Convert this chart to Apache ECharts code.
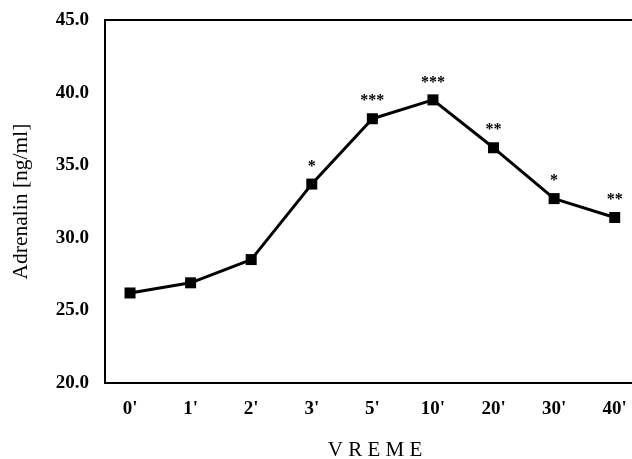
<!DOCTYPE html>
<html>
<head>
<meta charset="utf-8">
<script src="https://cdn.jsdelivr.net/npm/echarts@6/dist/echarts.min.js"></script>
<style>html,body{margin:0;padding:0;background:#fff;}#c{width:632px;height:459px;}</style>
</head>
<body>
<div id="c"></div>
<script>
const categories = ["0'", "1'", "2'", "3'", "5'", "10'", "20'", "30'", "40'"];
const values = [26.2, 26.9, 28.5, 33.7, 38.2, 39.5, 36.2, 32.7, 31.4];
const stars = ["", "", "", "*", "***", "***", "**", "*", "**"];
const yTicks = [20, 25, 30, 35, 40, 45];

const chart = echarts.init(document.getElementById('c'), null, {renderer: 'canvas'});
const font = '"Liberation Serif", "Times New Roman", serif';
const idx = categories.map((_, i) => i);

chart.setOption({
  animation: false,
  backgroundColor: '#fff',
  grid: {left: 105, top: 20, width: 540, height: 363, show: true, borderColor: '#000', borderWidth: 2,
         containLabel: false, outerBoundsMode: 'none'},
  xAxis: {
    type: 'value', min: -0.413, max: 8.5,
    axisLine: {show: false}, axisTick: {show: false}, splitLine: {show: false},
    axisLabel: {
      customValues: idx,
      formatter: v => categories[Math.round(v)],
      fontFamily: font, fontWeight: 'bold', fontSize: 19, color: '#000', margin: 17
    },
    name: 'V R E M E', nameLocation: 'middle', nameGap: 57,
    nameTextStyle: {fontFamily: font, fontSize: 21, color: '#000'}
  },
  yAxis: {
    type: 'value', min: 20, max: 45, interval: 5,
    axisLine: {show: false}, axisTick: {show: false}, splitLine: {show: false},
    axisLabel: {formatter: v => v.toFixed(1), fontFamily: font, fontWeight: 'bold', fontSize: 19, color: '#000', margin: 16},
    name: 'Adrenalin [ng/ml]', nameLocation: 'middle', nameGap: 73, nameRotate: 90,
    nameTextStyle: {fontFamily: font, fontSize: 21.5, color: '#000'}
  },
  series: [{
    type: 'line',
    data: values.map((v, i) => [i, v]),
    symbol: 'rect', symbolSize: 11,
    lineStyle: {color: '#000', width: 3},
    itemStyle: {color: '#000'},
    label: {
      show: true, position: 'top', distance: 4,
      formatter: p => stars[p.dataIndex],
      fontFamily: font, fontWeight: 'bold', fontSize: 16, color: '#000'
    }
  }]
});
</script>
</body>
</html>
